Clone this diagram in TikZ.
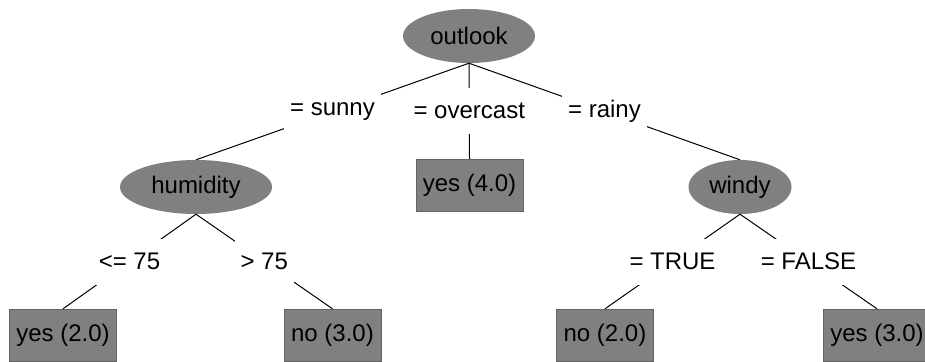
\documentclass[tikz,border=0pt]{standalone}
\usepackage{fontspec}
\setmainfont{Liberation Sans}
\usetikzlibrary{shapes.geometric}
\definecolor{wkGray}{RGB}{128,128,128}
\definecolor{wkEdge}{RGB}{100,100,100}
\newcommand{\wkfont}{\fontsize{24}{28}\selectfont}

\begin{document}
\begin{tikzpicture}[x=1pt,y=-1pt,
      split/.style={ellipse,fill=wkGray,inner sep=0pt,minimum height=54pt,font=\wkfont},
      leaf/.style={rectangle,fill=wkGray,draw=wkEdge,inner xsep=7pt,minimum height=52pt,font=\wkfont},
      cond/.style={rectangle,fill=white,inner xsep=6pt,minimum height=46pt,font=\wkfont},
      branch/.style={line width=1pt}]
    \useasboundingbox (0,0) rectangle (925,361);
    % attribute tests
    \node[split,minimum width=132pt] (outlook) at (469,36) {outlook};
    \node[split,minimum width=152pt] (humidity) at (196,187) {humidity};
    \node[split,minimum width=103pt] (windy) at (740,187) {windy};
    % leaves
    \node[leaf] (overcastYes) at (469.5,185) {yes (4.0)};
    \node[leaf] (lowYes) at (63,335) {yes (2.0)};
    \node[leaf] (highNo) at (332.5,335) {no (3.0)};
    \node[leaf] (trueNo) at (605,335) {no (2.0)};
    \node[leaf] (falseYes) at (877,335) {yes (3.0)};
    % branches
    \draw[branch] (outlook.south) -- node[cond]{= sunny} (humidity.north);
    \draw[branch] (outlook.south) -- node[cond]{= overcast} (overcastYes.north);
    \draw[branch] (outlook.south) -- node[cond]{= rainy} (windy.north);
    \draw[branch] (humidity.south) -- node[cond]{<= 75} (lowYes.north);
    \draw[branch] (humidity.south) -- node[cond]{> 75} (highNo.north);
    \draw[branch] (windy.south) -- node[cond]{= TRUE} (trueNo.north);
    \draw[branch] (windy.south) -- node[cond]{= FALSE} (falseYes.north);
\end{tikzpicture}
\end{document}
